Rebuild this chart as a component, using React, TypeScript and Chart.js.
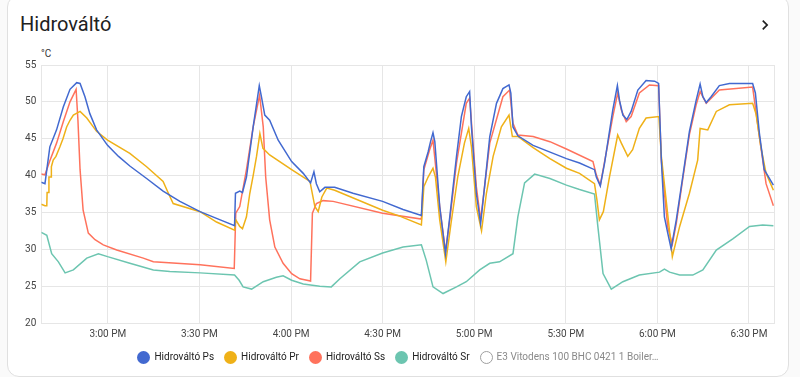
import React, { useEffect, useRef } from 'react';
import { Chart, registerables } from 'chart.js';

Chart.register(...registerables);

// ---- axis data (minutes since midnight) ----
const xMin = 878.2;
const xMax = 1118.2;
const tickMinutes = [900, 930, 960, 990, 1020, 1050, 1080, 1110];
const tickLabels = ['3:00 PM', '3:30 PM', '4:00 PM', '4:30 PM', '5:00 PM', '5:30 PM', '6:00 PM', '6:30 PM'];
const yMin = 20;
const yMax = 55;
const yStep = 5;
const unitLabel = '°C';
const cardTitle = 'Hidrováltó';

// ---- series ----
const seriesNames = ['Hidrováltó Ps', 'Hidrováltó Pr', 'Hidrováltó Ss', 'Hidrováltó Sr'];
const seriesColors = ['#4269d0', '#efb118', '#ff725c', '#6cc5b0'];
const hiddenSeriesName = 'E3 Vitodens 100 BHC 0421 1 Boiler…';

const psTimes = [878.2, 879.4, 881.0, 883.2, 885.4, 887.6, 889.8, 890.9, 892.5, 894.1, 896.3, 899.9, 903.5, 907.2, 912.7, 918.1, 923.6, 930.2, 935.6, 941.5, 941.8, 943.2, 944.1, 945.4, 947.6, 949.6, 950.3, 951.4, 953.0, 955.8, 960.2, 964.0, 966.4, 967.5, 968.3, 969.4, 971.1, 974.3, 980.3, 990.0, 996.7, 1002.7, 1003.5, 1004.9, 1005.7, 1006.5, 1007.1, 1008.7, 1010.6, 1012.0, 1014.2, 1015.8, 1017.4, 1018.5, 1019.1, 1020.7, 1022.1, 1023.4, 1025.1, 1027.3, 1029.4, 1031.4, 1032.0, 1032.7, 1034.3, 1039.3, 1050.2, 1054.5, 1059.4, 1060.0, 1061.3, 1062.7, 1065.4, 1066.9, 1067.6, 1068.7, 1070.0, 1071.4, 1073.6, 1076.3, 1079.1, 1080.4, 1081.3, 1082.3, 1083.4, 1084.5, 1086.2, 1088.3, 1090.5, 1092.7, 1094.0, 1094.9, 1096.0, 1097.6, 1100.3, 1103.6, 1111.2, 1112.1, 1113.4, 1115.0, 1118.0];
const psValues = [39.1, 38.9, 43.9, 46.2, 49.3, 51.7, 52.6, 52.5, 50.7, 48.4, 46.2, 44.1, 42.6, 41.3, 39.6, 37.9, 36.5, 35.1, 34.2, 33.2, 37.6, 37.9, 37.7, 39.8, 46.6, 52.2, 50.7, 48.2, 47.5, 44.8, 41.9, 40.3, 39.0, 40.5, 38.9, 37.8, 38.4, 38.4, 37.6, 36.5, 35.4, 34.6, 41.2, 43.2, 44.6, 45.8, 44.6, 35.8, 29.4, 34.4, 42.6, 48.0, 50.7, 51.4, 46.6, 37.6, 33.5, 38.5, 45.3, 49.8, 51.8, 52.3, 51.2, 46.6, 45.4, 44.1, 42.3, 41.7, 40.8, 39.8, 38.6, 41.7, 48.9, 52.2, 50.2, 48.2, 47.6, 48.7, 51.6, 52.9, 52.8, 52.5, 42.1, 34.4, 32.2, 30.1, 34.0, 39.8, 46.0, 50.2, 52.4, 50.7, 49.9, 50.7, 52.2, 52.5, 52.5, 51.2, 45.8, 40.8, 38.7];

const prTimes = [878.2, 879.4, 880.0, 880.1, 880.6, 880.7, 881.4, 881.5, 882.1, 883.0, 884.3, 885.3, 886.5, 887.6, 888.7, 890.9, 893.1, 896.3, 899.9, 907.2, 912.7, 918.1, 919.6, 921.4, 930.2, 935.6, 941.5, 941.9, 943.2, 944.1, 945.4, 946.5, 947.6, 948.7, 949.8, 950.8, 953.0, 960.2, 966.2, 967.8, 968.9, 970.1, 971.7, 974.3, 990.0, 995.6, 1002.7, 1003.5, 1004.9, 1006.5, 1007.3, 1008.7, 1010.7, 1012.4, 1014.6, 1016.8, 1018.2, 1019.1, 1020.7, 1022.4, 1024.0, 1026.2, 1028.9, 1031.4, 1032.5, 1034.3, 1039.3, 1044.8, 1050.2, 1054.5, 1059.4, 1060.2, 1061.0, 1062.3, 1064.3, 1067.0, 1068.2, 1070.3, 1071.9, 1074.1, 1076.3, 1080.5, 1081.3, 1084.9, 1087.3, 1090.5, 1093.2, 1094.0, 1096.5, 1099.3, 1103.6, 1111.2, 1112.3, 1113.9, 1115.6, 1118.0];
const prValues = [36.1, 35.9, 35.9, 37.7, 37.7, 39.8, 39.8, 41.2, 42.1, 42.6, 43.9, 45.0, 46.6, 47.5, 48.2, 48.7, 47.8, 46.0, 44.8, 43.0, 41.2, 39.2, 37.8, 36.2, 35.1, 33.7, 32.6, 34.0, 33.1, 32.8, 34.4, 37.6, 40.0, 42.6, 45.7, 43.7, 42.8, 40.8, 39.2, 35.8, 35.1, 37.1, 38.3, 38.0, 35.3, 34.5, 33.3, 38.5, 39.8, 41.0, 39.8, 34.0, 28.3, 33.5, 39.8, 44.4, 46.4, 43.9, 35.8, 32.5, 37.6, 42.6, 46.6, 48.2, 45.3, 45.3, 43.8, 42.3, 41.0, 40.3, 38.9, 36.7, 34.0, 35.1, 39.8, 45.5, 44.4, 42.6, 43.5, 46.4, 47.8, 48.0, 42.6, 29.0, 33.1, 37.6, 42.1, 46.4, 46.2, 48.7, 49.6, 49.8, 48.4, 43.9, 40.3, 38.0];

const ssTimes = [878.2, 879.4, 881.0, 883.2, 885.4, 887.6, 889.6, 890.2, 890.9, 891.9, 893.6, 895.8, 898.5, 902.9, 911.6, 914.9, 930.2, 941.4, 941.9, 943.2, 945.4, 947.6, 949.7, 950.9, 951.7, 953.0, 954.7, 957.4, 960.2, 962.9, 966.4, 967.0, 968.3, 970.5, 973.8, 990.0, 1002.7, 1003.5, 1005.4, 1006.5, 1008.7, 1010.6, 1012.0, 1014.2, 1017.4, 1018.5, 1020.7, 1022.1, 1025.1, 1029.4, 1031.6, 1032.7, 1034.3, 1039.3, 1044.8, 1050.2, 1058.9, 1060.0, 1061.3, 1065.4, 1067.0, 1068.2, 1069.8, 1071.4, 1074.1, 1077.4, 1080.4, 1081.3, 1083.4, 1084.9, 1086.2, 1088.3, 1090.5, 1092.7, 1094.0, 1096.0, 1100.3, 1111.2, 1113.4, 1115.6, 1118.0];
const ssValues = [40.2, 40.1, 42.0, 44.4, 47.3, 50.0, 51.7, 47.5, 40.8, 35.3, 32.2, 31.3, 30.6, 29.9, 28.8, 28.3, 27.9, 27.4, 34.9, 35.8, 40.8, 46.6, 50.9, 46.6, 39.8, 34.0, 30.3, 28.1, 26.7, 26.0, 25.7, 34.9, 36.2, 36.6, 36.5, 34.9, 34.1, 40.8, 43.5, 44.8, 35.8, 29.7, 34.0, 41.7, 49.8, 50.5, 38.5, 34.0, 44.4, 50.7, 51.6, 47.1, 45.5, 45.3, 44.6, 43.6, 41.9, 40.1, 38.7, 48.0, 51.2, 48.9, 47.3, 48.0, 51.2, 52.3, 52.2, 42.0, 33.0, 30.7, 33.5, 39.5, 45.6, 49.6, 51.4, 49.8, 51.6, 52.0, 45.3, 38.9, 35.9];

const srTimes = [878.2, 880.0, 881.6, 883.8, 886.0, 888.7, 893.1, 896.9, 899.9, 907.2, 914.9, 920.3, 930.2, 941.5, 943.0, 944.3, 947.1, 950.9, 955.2, 957.4, 960.2, 964.0, 969.4, 973.2, 976.0, 982.5, 990.0, 996.7, 1002.7, 1004.3, 1006.5, 1009.8, 1014.2, 1017.4, 1021.8, 1025.1, 1028.3, 1032.7, 1034.3, 1036.5, 1039.8, 1044.8, 1050.2, 1054.5, 1059.4, 1060.5, 1062.2, 1064.9, 1068.7, 1074.1, 1080.7, 1082.3, 1084.0, 1087.3, 1091.6, 1094.9, 1099.3, 1104.7, 1110.2, 1114.5, 1118.0];
const srValues = [32.3, 31.9, 29.4, 28.3, 26.8, 27.2, 28.8, 29.4, 29.0, 28.1, 27.2, 27.0, 26.8, 26.5, 25.8, 24.9, 24.6, 25.6, 26.2, 26.4, 25.8, 25.3, 25.0, 24.9, 26.0, 28.3, 29.5, 30.3, 30.6, 28.5, 24.9, 24.0, 24.9, 25.6, 27.2, 28.1, 28.3, 29.4, 34.4, 39.0, 40.2, 39.6, 38.7, 38.1, 37.5, 33.1, 26.7, 24.6, 25.6, 26.5, 26.9, 27.3, 26.9, 26.5, 26.5, 27.2, 29.9, 31.4, 33.1, 33.3, 33.2];

const seriesTimes = [psTimes, prTimes, ssTimes, srTimes];
const seriesValues = [psValues, prValues, ssValues, srValues];

const FONT = 'Roboto, "Noto Sans", sans-serif';
const GRID = '#e6e6e6';

const framePlugin = {
  id: 'frame',
  beforeDatasetsDraw(chart: any) {
    const { ctx, chartArea: a } = chart;
    ctx.save();
    ctx.strokeStyle = GRID;
    ctx.lineWidth = 1;
    ctx.beginPath();
    ctx.moveTo(Math.round(a.right) + 0.5, a.top);
    ctx.lineTo(Math.round(a.right) + 0.5, a.bottom);
    ctx.stroke();
    ctx.restore();
  },
};

function ChevronRight() {
  return (
    <svg width="20" height="20" viewBox="0 0 24 24" style={{ position: 'absolute', left: 755, top: 15 }}>
      <path d="M8.59,16.58L13.17,12L8.59,7.41L10,6L16,12L10,18L8.59,16.58Z" fill="#212121" />
    </svg>
  );
}

export default function App() {
  const canvasRef = useRef<HTMLCanvasElement | null>(null);

  useEffect(() => {
    if (!canvasRef.current) return;
    const datasets = seriesNames.map((name, i) => ({
      label: name,
      data: seriesTimes[i].map((t, j) => ({ x: t, y: seriesValues[i][j] })),
      borderColor: seriesColors[i],
      backgroundColor: seriesColors[i],
      borderWidth: 1.5,
      pointRadius: 0,
      tension: 0,
      fill: false,
    }));
    const chart = new Chart(canvasRef.current, {
      type: 'line',
      data: { datasets },
      options: {
        animation: false,
        responsive: false,
        maintainAspectRatio: false,
        layout: { padding: { left: 0, right: 26, top: 65, bottom: 34 } },
        plugins: { legend: { display: false }, tooltip: { enabled: false }, title: { display: false } },
        scales: {
          x: {
            type: 'linear',
            min: xMin,
            max: xMax,
            afterBuildTicks: (s: any) => {
              s.ticks = tickMinutes.map((v) => ({ value: v }));
            },
            afterFit: (s: any) => {
              s.height = 20;
            },
            ticks: {
              autoSkip: false,
              maxRotation: 0,
              padding: 5,
              color: '#444',
              font: { family: FONT, size: 10 },
              callback: (v: any) => {
                const k = tickMinutes.indexOf(Number(v));
                return k >= 0 ? tickLabels[k] : '';
              },
            },
            grid: { color: GRID, drawTicks: false },
            border: { color: GRID },
          },
          y: {
            min: yMin,
            max: yMax,
            afterFit: (s: any) => {
              s.width = 41.3;
            },
            ticks: {
              stepSize: yStep,
              padding: 5,
              color: '#444',
              font: { family: FONT, size: 10 },
            },
            grid: { color: GRID, drawTicks: false },
            border: { color: GRID },
          },
        },
      },
      plugins: [framePlugin],
    });
    return () => chart.destroy();
  }, []);

  const legendItems = [
    ...seriesNames.map((n, i) => ({ name: n, color: seriesColors[i], hidden: false })),
    { name: hiddenSeriesName, color: '#9e9e9e', hidden: true },
  ];

  return (
    <div style={{ position: 'fixed', left: 0, top: 0, width: 800, height: 377, background: '#fafafa', overflow: 'hidden', fontFamily: FONT }}>
      <div
        style={{
          position: 'absolute',
          left: 7,
          top: -5,
          width: 782,
          height: 382,
          boxSizing: 'border-box',
          border: '1px solid #e0e0e0',
          borderRadius: 12,
          background: '#ffffff',
        }}
      />
      <div style={{ position: 'absolute', left: 20, top: 12, fontSize: 20, lineHeight: '24px', color: '#212121', fontWeight: 400 }}>
        {cardTitle}
      </div>
      <ChevronRight />
      <div style={{ position: 'absolute', left: 41, top: 47.5, fontSize: 10, lineHeight: '12px', color: '#333333' }}>{unitLabel}</div>
      <canvas ref={canvasRef} width={800} height={377} style={{ position: 'absolute', left: 0, top: 0, width: 800, height: 377 }} />
      <div
        style={{
          position: 'absolute',
          left: 7,
          width: 782,
          top: 350,
          height: 14,
          display: 'flex',
          justifyContent: 'center',
          alignItems: 'center',
          gap: 10,
          fontSize: 10,
          lineHeight: '14px',
        }}
      >
        {legendItems.map((it) => (
          <div key={it.name} style={{ display: 'flex', alignItems: 'center', whiteSpace: 'nowrap' }}>
            <span
              style={{
                display: 'inline-block',
                width: 13,
                height: 13,
                borderRadius: '50%',
                boxSizing: 'border-box',
                background: it.hidden ? 'transparent' : it.color,
                border: it.hidden ? '1px solid #9e9e9e' : 'none',
                marginRight: 4,
              }}
            />
            <span style={{ color: it.hidden ? '#8a8a8a' : '#212121' }}>{it.name}</span>
          </div>
        ))}
      </div>
    </div>
  );
}
